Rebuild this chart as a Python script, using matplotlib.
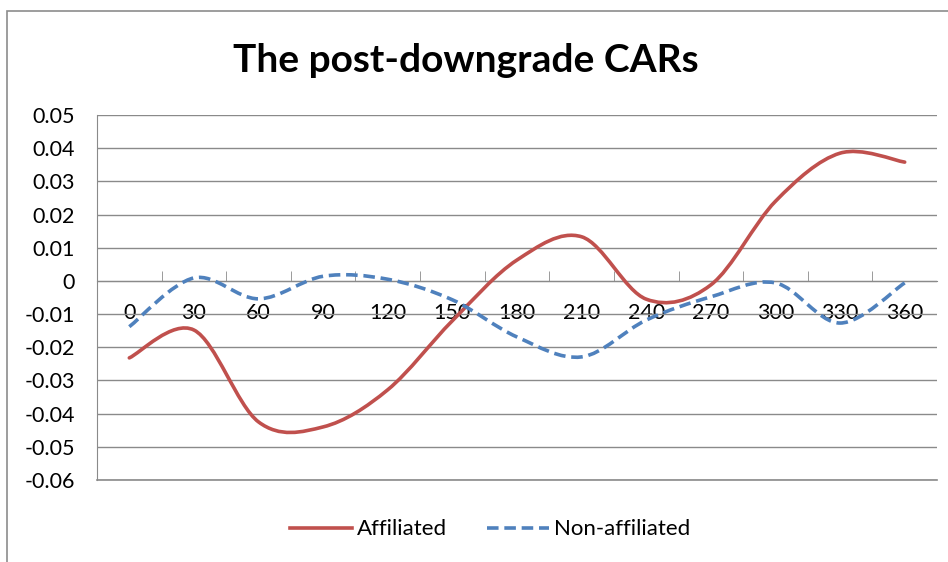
import matplotlib
matplotlib.use('Agg')
import matplotlib.pyplot as plt
from matplotlib.path import Path
from matplotlib.patches import PathPatch, Rectangle
from matplotlib.lines import Line2D
import numpy as np

plt.rcParams['font.family'] = ['Lato', 'DejaVu Sans']

# data
days = ['0', '30', '60', '90', '120', '150', '180', '210', '240', '270', '300', '330', '360']
affiliated = [-0.0232, -0.0148, -0.0425, -0.0440, -0.0328, -0.0120, 0.0063,
              0.0133, -0.0055, -0.0012, 0.0240, 0.0385, 0.0358]
non_affiliated = [-0.0138, 0.0009, -0.0054, 0.0014, 0.0005, -0.0057, -0.0169,
                  -0.0229, -0.0118, -0.0048, -0.0006, -0.0127, -0.0006]
yticks = [-0.06, -0.05, -0.04, -0.03, -0.02, -0.01, 0, 0.01, 0.02, 0.03, 0.04, 0.05]
ylabels = ['-0.06', '-0.05', '-0.04', '-0.03', '-0.02', '-0.01', '0',
           '0.01', '0.02', '0.03', '0.04', '0.05']

RED = '#C0504D'
BLUE = '#4F81BD'
GRID = '#8a8a8a'


def smooth_path(xs, ys):
    # excel style smoothed line: bezier segments with catmull-rom handles
    pts = np.column_stack([xs, ys]).astype(float)
    n = len(pts)
    verts = [pts[0]]
    codes = [Path.MOVETO]
    for i in range(n - 1):
        p0 = pts[max(i - 1, 0)]
        p1 = pts[i]
        p2 = pts[i + 1]
        p3 = pts[min(i + 2, n - 1)]
        c1 = p1 + (p2 - p0) / 6.0
        c2 = p2 - (p3 - p1) / 6.0
        verts += [c1, c2, p2]
        codes += [Path.CURVE4] * 3
    return Path(verts, codes)


fig = plt.figure(figsize=(9.48, 5.62), dpi=100)
fig.patches.append(Rectangle((7 / 948, -0.1), 1.2, 1 - 11 / 562 + 0.1,
                             transform=fig.transFigure, fill=False,
                             edgecolor='#8c8c8c', lw=1.2))

ax = fig.add_axes([97 / 948, 1 - 480 / 562, 840 / 948, 365 / 562])
x = np.arange(len(days))

ax.add_patch(PathPatch(smooth_path(x, affiliated), fill=False, edgecolor=RED,
                       lw=2.6, capstyle='round', zorder=3))
ax.add_patch(PathPatch(smooth_path(x, non_affiliated), fill=False, edgecolor=BLUE,
                       lw=2.6, linestyle=(0, (3.2, 1.6)), zorder=3))

ax.set_xlim(-0.5, len(days) - 0.5)
ax.set_ylim(-0.06, 0.05)

ax.set_yticks(yticks)
ax.set_yticklabels(ylabels)
ax.tick_params(axis='y', length=0, pad=16, labelsize=15.5)
ax.yaxis.grid(True, color=GRID, lw=1)
ax.axhline(-0.06, color=GRID, lw=1.2, clip_on=False, zorder=1)
ax.set_axisbelow(True)

ax.spines['bottom'].set_position(('data', 0))
ax.spines['bottom'].set_color(GRID)
ax.spines['left'].set_color(GRID)
ax.spines['top'].set_visible(False)
ax.spines['right'].set_visible(False)

ax.set_xticks(x)
ax.set_xticklabels(days)
ax.set_xticks(np.arange(len(days) - 1) + 0.5, minor=True)
ax.tick_params(axis='x', which='major', length=0, pad=16, labelsize=15.5)
ax.tick_params(axis='x', which='minor', direction='in', length=7, color=GRID)

fig.text(0.491, 0.893, 'The post-downgrade CARs', ha='center', va='center',
         fontsize=28, fontweight='bold')

handles = [Line2D([], [], color=RED, lw=2.6),
           Line2D([], [], color=BLUE, lw=2.6, linestyle=(0, (3.2, 1.6)))]
fig.legend(handles, ['Affiliated', 'Non-affiliated'], loc='center',
           bbox_to_anchor=(0.517, 0.058), ncol=2, frameon=False, fontsize=16,
           handlelength=2.8, handletextpad=0.2, columnspacing=1.8)

fig.savefig('out.png', dpi=100)
